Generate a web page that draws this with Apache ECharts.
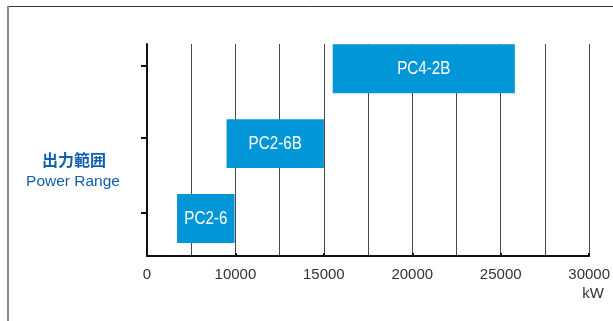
<!DOCTYPE html>
<html>
<head>
<meta charset="utf-8">
<script src="https://cdn.jsdelivr.net/npm/echarts@6/dist/echarts.min.js"></script>
<style>
  html, body { margin: 0; padding: 0; background: #fff; }
  #chart { width: 613px; height: 321px; }
</style>
</head>
<body>
<div id="chart"></div>
<script>
// Output range of each model, in kW
const models = ['PC2-6', 'PC2-6B', 'PC4-2B'];
const rangeStart = [3400, 9000, 15500];
const rangeEnd = [9900, 15000, 25800];
const rows = [1, 2, 3];

// Tick labels on the power axis
const xTickValues = [0, 10000, 15000, 20000, 25000, 30000];

// The 0–10000 kW stretch is drawn at half scale, so it takes the width of 5000 kW
const BREAK_END = 10000;
function toAxis(kw) {
  return kw <= BREAK_END ? BREAK_END / 2 + kw / 2 : kw;
}
function fromAxis(v) {
  return v <= BREAK_END ? (v - BREAK_END / 2) * 2 : v;
}

const seriesData = models.map((m, i) => [toAxis(rangeStart[i]), toAxis(rangeEnd[i]), rows[i], m]);

const BAR_COLOR = '#0096D8';
const SANS = '"Liberation Sans", Arial, sans-serif';
const X_MIN = toAxis(0), X_MAX = 30000, X_STEP = 2500;

const chart = echarts.init(document.getElementById('chart'), null, { renderer: 'canvas' });

chart.setOption({
  animation: false,
  backgroundColor: '#fff',
  grid: { left: 147, right: 22, top: 44, bottom: 65, containLabel: false },
  xAxis: [{
    // labelled power axis
    type: 'value',
    position: 'bottom',
    min: X_MIN, max: X_MAX, interval: X_STEP,
    axisLine: { show: true, onZero: false, lineStyle: { color: '#111', width: 2 } },
    axisTick: {
      show: true, inside: true, length: 3,
      lineStyle: { color: '#111', width: 2 },
      customValues: xTickValues.map(toAxis)
    },
    axisLabel: {
      customValues: xTickValues.map(toAxis),
      formatter: v => String(Math.round(fromAxis(v))),
      color: '#333',
      fontFamily: SANS,
      fontSize: 15,
      margin: 11
    },
    splitLine: { show: false },
    z: 3
  }, {
    // vertical grid every 2500 on the same scale
    type: 'value',
    position: 'top',
    min: X_MIN, max: X_MAX, interval: X_STEP,
    axisLine: { show: false },
    axisTick: { show: false },
    axisLabel: { show: false },
    splitLine: { show: true, lineStyle: { color: '#4a4a4a', width: 1 } }
  }],
  yAxis: {
    type: 'value',
    min: 0.5,
    max: 3.33,
    axisLine: { show: true, lineStyle: { color: '#111', width: 2 } },
    axisTick: {
      show: true, inside: false, length: 6,
      lineStyle: { color: '#111', width: 2 },
      customValues: [1.08, 2.08, 3.04]
    },
    axisLabel: { show: false },
    splitLine: { show: false },
    z: 3
  },
  graphic: [
    { type: 'line', shape: { x1: 8, y1: 6.5, x2: 613, y2: 6.5 }, style: { stroke: '#333', lineWidth: 1 } },
    { type: 'line', shape: { x1: 8, y1: 6, x2: 8, y2: 321 }, style: { stroke: '#888', lineWidth: 2 } },
    {
      type: 'text', x: 74, y: 160,
      style: {
        text: '出力範囲', fill: '#1060B0', align: 'center', verticalAlign: 'middle',
        font: 'bold 16px "Noto Sans CJK JP", sans-serif'
      }
    },
    {
      type: 'text', x: 73, y: 182,
      style: {
        text: 'Power Range', fill: '#1060B0', align: 'center', verticalAlign: 'middle',
        font: '15.5px ' + SANS
      }
    },
    {
      type: 'text', x: 593, y: 294,
      style: {
        text: 'kW', fill: '#333', align: 'center', verticalAlign: 'middle',
        font: '15px ' + SANS
      }
    }
  ],
  series: [{
    type: 'custom',
    xAxisIndex: 0,
    data: seriesData,
    encode: { x: [0, 1], y: 2 },
    z: 2,
    renderItem: function (params, api) {
      const y = api.value(2);
      const p0 = api.coord([api.value(0), y]);
      const p1 = api.coord([api.value(1), y]);
      const h = api.size([0, 0.653])[1];
      return {
        type: 'group',
        children: [{
          type: 'rect',
          shape: { x: p0[0], y: p0[1] - h / 2, width: p1[0] - p0[0], height: h },
          style: { fill: BAR_COLOR }
        }, {
          type: 'text',
          x: (p0[0] + p1[0]) / 2,
          y: p0[1],
          scaleX: 0.8,
          style: {
            text: models[params.dataIndex],
            fill: '#fff',
            align: 'center',
            verticalAlign: 'middle',
            font: '19px ' + SANS
          }
        }]
      };
    }
  }]
});
</script>
</body>
</html>
